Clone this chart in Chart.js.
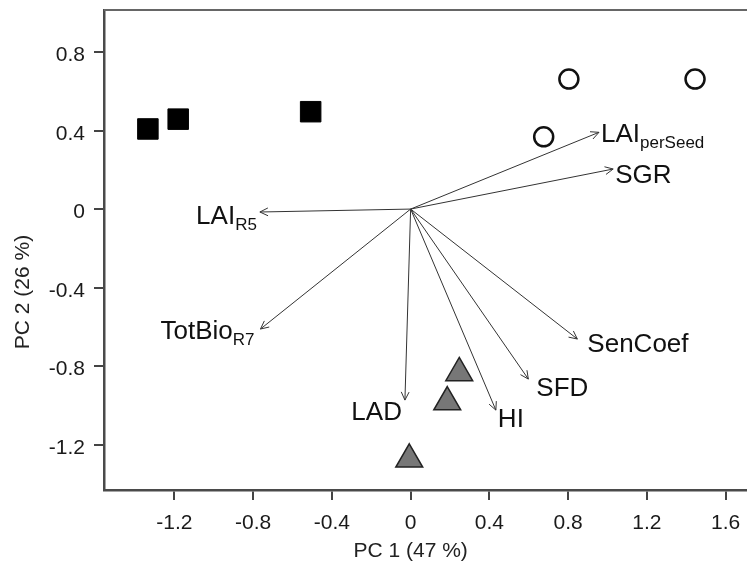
<!DOCTYPE html>
<html lang="en">
<head>
  <meta charset="UTF-8" />
  <title>PCA biplot</title>
  <script src="https://cdn.jsdelivr.net/npm/chart.js"></script>
  <style>
    * { margin: 0; padding: 0; box-sizing: border-box; }
    body { background: #fff; }
    .wrap { width: 747px; height: 563px; }
  </style>
</head>
<body>
  <div class="wrap">
    <canvas id="biplot" width="747" height="563"></canvas>
  </div>

  <script>
    // scores (one group per marker style)
    const squareX = [-1.335, -1.181, -0.508];
    const squareY = [0.408, 0.458, 0.496];
    const circleX = [0.804, 1.445, 0.676];
    const circleY = [0.662, 0.662, 0.368];
    const triangleX = [0.247, 0.186, -0.007];
    const triangleY = [-0.835, -0.983, -1.275];

    // loadings (arrow tips)
    const loadingNames = ["LAI", "SGR", "LAI", "TotBio", "LAD", "HI", "SFD", "SenCoef"];
    const loadingSubs = ["perSeed", "", "R5", "R7", "", "", "", ""];
    const loadingX = [0.957, 1.029, -0.766, -0.763, -0.029, 0.433, 0.598, 0.847];
    const loadingY = [0.391, 0.204, -0.015, -0.611, -0.973, -1.024, -0.866, -0.662];

    const xTicks = [-1.2, -0.8, -0.4, 0, 0.4, 0.8, 1.2, 1.6];
    const yTicks = [-1.2, -0.8, -0.4, 0, 0.4, 0.8];
    const xTitle = "PC 1 (47 %)";
    const yTitle = "PC 2 (26 %)";

    // where each loading label sits relative to its arrow tip (px)
    const labelPlace = [
      { align: "left", dx: 2, dy: 9.5 },
      { align: "left", dx: 2, dy: 14 },
      { align: "right", dx: -3, dy: 12 },
      { align: "right", dx: -6, dy: 10 },
      { align: "right", dx: -3, dy: 20 },
      { align: "left", dx: 2, dy: 17 },
      { align: "left", dx: 8, dy: 17 },
      { align: "left", dx: 10, dy: 12.5 }
    ];

    const FONT = '"Liberation Sans", Arial, sans-serif';
    const toPts = (xs, ys) => xs.map((x, i) => ({ x: x, y: ys[i] }));
    const fmt = v => (v === 0 ? "0" : v.toFixed(1));

    const arrowSets = loadingX.map((x, i) => ({
      label: loadingNames[i] + loadingSubs[i],
      data: [{ x: 0, y: 0 }, { x: x, y: loadingY[i] }],
      showLine: true,
      borderColor: "#333",
      borderWidth: 1,
      pointRadius: 0,
      order: 2
    }));

    const biplotExtras = {
      id: "biplotExtras",
      afterDatasetsDraw(chart) {
        const ctx = chart.ctx;
        const xs = chart.scales.x, ys = chart.scales.y;
        const area = chart.chartArea;
        const ox = xs.getPixelForValue(0), oy = ys.getPixelForValue(0);

        ctx.save();
        // top frame line (right side runs off the picture)
        ctx.strokeStyle = "#666";
        ctx.lineWidth = 2;
        ctx.beginPath();
        ctx.moveTo(area.left, area.top);
        ctx.lineTo(area.right + 2, area.top);
        ctx.stroke();

        // arrow heads
        ctx.strokeStyle = "#333";
        ctx.lineWidth = 1;
        loadingX.forEach((lx, i) => {
          const tx = xs.getPixelForValue(lx), ty = ys.getPixelForValue(loadingY[i]);
          const ang = Math.atan2(ty - oy, tx - ox);
          const len = 9, spread = 0.45;
          ctx.beginPath();
          ctx.moveTo(tx - len * Math.cos(ang - spread), ty - len * Math.sin(ang - spread));
          ctx.lineTo(tx, ty);
          ctx.lineTo(tx - len * Math.cos(ang + spread), ty - len * Math.sin(ang + spread));
          ctx.stroke();
        });

        // loading labels with subscripts
        ctx.fillStyle = "#111";
        ctx.textBaseline = "alphabetic";
        ctx.textAlign = "left";
        loadingX.forEach((lx, i) => {
          const tx = xs.getPixelForValue(lx), ty = ys.getPixelForValue(loadingY[i]);
          const p = labelPlace[i];
          ctx.font = "26px " + FONT;
          const wMain = ctx.measureText(loadingNames[i]).width;
          ctx.font = "17px " + FONT;
          const wSub = loadingSubs[i] ? ctx.measureText(loadingSubs[i]).width : 0;
          let sx = tx + p.dx;
          if (p.align === "right") sx -= wMain + wSub;
          const by = ty + p.dy;
          ctx.font = "26px " + FONT;
          ctx.fillText(loadingNames[i], sx, by);
          if (loadingSubs[i]) {
            ctx.font = "17px " + FONT;
            ctx.fillText(loadingSubs[i], sx + wMain, by + 6);
          }
        });

        // tick labels (drawn here so they don't shrink the plot box)
        ctx.fillStyle = "#1a1a1a";
        ctx.font = "21px " + FONT;
        ctx.textAlign = "center";
        xTicks.forEach(v => ctx.fillText(fmt(v), xs.getPixelForValue(v), 529));
        ctx.textAlign = "right";
        yTicks.forEach(v => ctx.fillText(fmt(v), area.left - 19, ys.getPixelForValue(v) + 9));

        // axis titles
        ctx.fillStyle = "#222";
        ctx.textAlign = "center";
        ctx.fillText(xTitle, ox, 557);
        ctx.translate(28.5, 292);
        ctx.rotate(-Math.PI / 2);
        ctx.fillText(yTitle, 0, 0);
        ctx.restore();
      }
    };

    const axisBase = {
      type: "linear",
      grid: {
        drawOnChartArea: false,
        drawTicks: true,
        tickLength: 10,
        color: "#444",
        lineWidth: 2
      },
      border: { display: true, color: "#4a4a4a", width: 2.5 },
      ticks: { display: false }
    };

    new Chart(document.getElementById("biplot"), {
      type: "scatter",
      data: {
        datasets: [
          ...arrowSets,
          {
            label: "squares",
            data: toPts(squareX, squareY),
            pointStyle: "rect",
            pointRadius: 14.5,
            backgroundColor: "#000",
            borderColor: "#000",
            borderWidth: 1,
            order: 1
          },
          {
            label: "circles",
            data: toPts(circleX, circleY),
            pointStyle: "circle",
            pointRadius: 9.5,
            backgroundColor: "rgba(255,255,255,0)",
            borderColor: "#111",
            borderWidth: 2.5,
            order: 1
          },
          {
            label: "triangles",
            data: toPts(triangleX, triangleY),
            pointStyle: "triangle",
            pointRadius: 15.5,
            backgroundColor: "#777",
            borderColor: "#222",
            borderWidth: 1.5,
            order: 1
          }
        ]
      },
      options: {
        responsive: false,
        animation: false,
        layout: { autoPadding: false, padding: { top: 10, right: 0, left: 0, bottom: 0 } },
        plugins: { legend: { display: false }, tooltip: { enabled: false } },
        elements: { point: { hoverRadius: 0 } },
        scales: {
          x: {
            ...axisBase,
            position: "bottom",
            min: -1.558,
            max: 1.709,
            afterBuildTicks: s => { s.ticks = xTicks.map(v => ({ value: v })); },
            afterFit: s => { s.height = 73; }
          },
          y: {
            ...axisBase,
            position: "left",
            min: -1.431,
            max: 1.014,
            afterBuildTicks: s => { s.ticks = yTicks.map(v => ({ value: v })); },
            afterFit: s => { s.width = 104; }
          }
        }
      },
      plugins: [biplotExtras]
    });
  </script>
</body>
</html>
